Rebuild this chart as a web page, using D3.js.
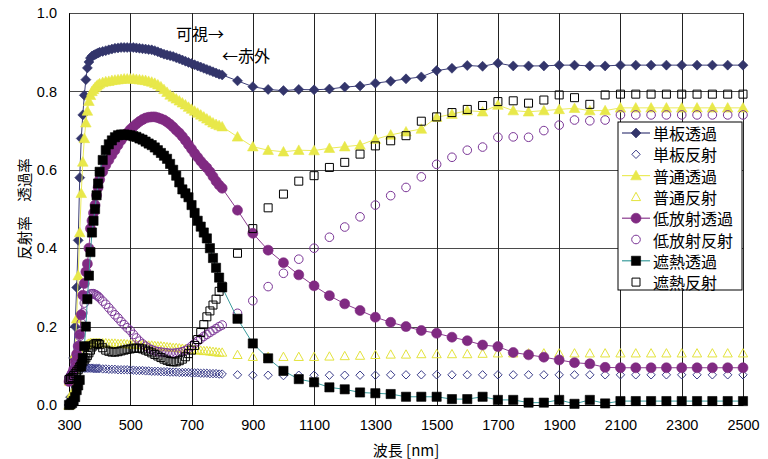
<!DOCTYPE html>
<html>
<head>
<meta charset="utf-8">
<script src="https://cdn.jsdelivr.net/npm/d3@7"></script>
<style>
  html, body { margin: 0; padding: 0; background: #fff; }
  svg { display: block; font-family: "Noto Sans CJK JP", "Noto Sans", sans-serif; }
</style>
</head>
<body>
<svg id="chart" width="768" height="459"></svg>
<script>
// wavelength grid [nm]: 5nm in UV, 10nm in visible, 50nm in IR
const wlUV = [300,305,310,315,320,325,330,335,340,345,350,355,360,365,370,375,380,385,390,395,400];
const wlVis = [410,420,430,440,450,460,470,480,490,500,510,520,530,540,550,560,570,580,590,600,
  610,620,630,640,650,660,670,680,690,700,710,720,730,740,750,760,770,780,790,800];
const wlIR = [850,900,950,1000,1050,1100,1150,1200,1250,1300,1350,1400,1450,1500,1550,1600,1650,1700,
  1750,1800,1850,1900,1950,2000,2050,2100,2150,2200,2250,2300,2350,2400,2450,2500];
const wavelengths = [...wlUV, ...wlVis, ...wlIR];

// 単板透過
const tanbanTouka = [
  0.00,0.02,0.06,0.12,0.20,0.30,0.42,0.58,0.68,0.74,0.79,0.83,0.86,0.875,0.885,0.89,0.892,0.894,0.896,0.898,0.900,
  0.902,0.904,0.906,0.908,0.910,0.911,0.912,0.912,0.912,0.912,0.912,0.911,0.910,0.909,0.908,0.907,0.906,0.904,0.901,0.898,
  0.895,0.893,0.891,0.889,0.886,0.883,0.880,0.877,0.874,0.871,0.868,0.865,0.862,0.859,0.856,0.853,0.850,0.847,0.844,0.842,
  0.827,0.812,0.805,0.802,0.805,0.804,0.806,0.811,0.814,0.821,0.826,0.832,0.837,0.853,0.859,0.866,0.864,0.872,
  0.865,0.865,0.865,0.867,0.867,0.865,0.865,0.867,0.867,0.867,0.867,0.867,0.867,0.867,0.867,0.867];
// 単板反射
const tanbanHansha = [
  0.070,0.070,0.075,0.080,0.085,0.090,0.092,0.094,0.094,0.094,0.094,0.094,0.094,0.094,0.094,0.094,0.093,0.093,0.093,0.093,0.093,
  0.092,0.092,0.091,0.091,0.091,0.090,0.090,0.090,0.090,0.089,0.089,0.088,0.088,0.088,0.087,0.087,0.086,0.086,0.086,0.085,
  0.085,0.085,0.084,0.084,0.084,0.083,0.083,0.083,0.083,0.082,0.082,0.082,0.081,0.081,0.081,0.080,0.080,0.080,0.079,0.079,
  0.077,0.076,0.076,0.075,0.076,0.076,0.076,0.076,0.076,0.076,0.077,0.077,0.077,0.077,0.077,0.077,0.077,0.077,
  0.077,0.077,0.077,0.077,0.077,0.077,0.077,0.077,0.077,0.077,0.077,0.077,0.077,0.077,0.077,0.077];
// 普通透過
const futsuTouka = [
  0.00,0.01,0.03,0.07,0.13,0.22,0.33,0.44,0.54,0.62,0.68,0.72,0.75,0.775,0.79,0.80,0.805,0.81,0.814,0.817,0.820,
  0.823,0.825,0.826,0.828,0.829,0.830,0.831,0.832,0.832,0.832,0.832,0.831,0.830,0.829,0.828,0.826,0.824,0.821,0.817,0.812,
  0.805,0.798,0.791,0.786,0.781,0.776,0.771,0.766,0.760,0.755,0.750,0.745,0.740,0.735,0.730,0.725,0.720,0.716,0.713,0.710,
  0.684,0.659,0.650,0.646,0.650,0.649,0.655,0.659,0.663,0.678,0.689,0.697,0.704,0.734,0.742,0.751,0.748,0.765,
  0.751,0.748,0.751,0.754,0.757,0.751,0.751,0.758,0.758,0.758,0.758,0.758,0.758,0.758,0.758,0.758];
// 普通反射
const futsuHansha = [
  0.060,0.065,0.070,0.080,0.090,0.100,0.110,0.120,0.130,0.140,0.148,0.152,0.155,0.157,0.158,0.158,0.158,0.158,0.158,0.158,0.158,
  0.158,0.158,0.157,0.157,0.157,0.156,0.156,0.156,0.155,0.155,0.155,0.154,0.154,0.153,0.153,0.152,0.152,0.151,0.150,0.150,
  0.149,0.148,0.147,0.146,0.146,0.145,0.144,0.143,0.142,0.142,0.141,0.140,0.139,0.138,0.138,0.137,0.136,0.135,0.134,0.134,
  0.128,0.123,0.123,0.123,0.123,0.123,0.124,0.125,0.126,0.128,0.129,0.129,0.130,0.130,0.130,0.130,0.131,0.132,
  0.132,0.132,0.132,0.132,0.132,0.132,0.132,0.132,0.132,0.132,0.132,0.132,0.132,0.132,0.132,0.132];
// 低放射透過
const teihoushaTouka = [
  0.06,0.07,0.08,0.09,0.11,0.13,0.15,0.18,0.23,0.28,0.31,0.34,0.36,0.40,0.45,0.47,0.49,0.51,0.535,0.555,0.575,
  0.595,0.612,0.625,0.638,0.650,0.663,0.675,0.685,0.694,0.703,0.710,0.717,0.723,0.728,0.732,0.734,0.735,0.735,0.733,0.730,
  0.727,0.722,0.716,0.709,0.701,0.694,0.685,0.675,0.664,0.653,0.642,0.632,0.622,0.613,0.605,0.595,0.583,0.571,0.561,0.553,
  0.497,0.438,0.395,0.363,0.332,0.304,0.279,0.258,0.241,0.224,0.211,0.200,0.190,0.183,0.173,0.164,0.153,0.149,
  0.134,0.128,0.122,0.115,0.108,0.105,0.096,0.095,0.095,0.095,0.095,0.095,0.095,0.095,0.095,0.095];
// 低放射反射
const teihoushaHansha = [
  0.070,0.075,0.080,0.090,0.100,0.120,0.150,0.175,0.210,0.235,0.260,0.270,0.276,0.280,0.283,0.284,0.284,0.282,0.280,0.277,0.273,
  0.265,0.257,0.248,0.239,0.230,0.222,0.213,0.205,0.197,0.190,0.180,0.171,0.163,0.156,0.150,0.145,0.141,0.138,0.136,0.135,
  0.134,0.133,0.132,0.132,0.133,0.134,0.136,0.139,0.144,0.150,0.157,0.163,0.169,0.175,0.180,0.185,0.190,0.195,0.200,0.204,
  0.234,0.266,0.302,0.336,0.372,0.400,0.428,0.454,0.480,0.510,0.534,0.555,0.582,0.614,0.632,0.650,0.658,0.683,
  0.684,0.683,0.700,0.714,0.727,0.725,0.727,0.740,0.740,0.740,0.740,0.740,0.740,0.740,0.740,0.740];
// 遮熱透過
const shanetsuTouka = [
  0.000,0.002,0.005,0.010,0.020,0.038,0.050,0.064,0.098,0.120,0.150,0.200,0.270,0.330,0.390,0.440,0.470,0.500,0.535,0.565,0.595,
  0.625,0.650,0.665,0.675,0.683,0.688,0.690,0.690,0.689,0.688,0.686,0.684,0.680,0.677,0.672,0.667,0.663,0.657,0.650,0.643,
  0.636,0.628,0.615,0.600,0.585,0.568,0.550,0.540,0.530,0.510,0.490,0.470,0.455,0.440,0.425,0.400,0.375,0.350,0.325,0.300,
  0.220,0.157,0.119,0.087,0.066,0.058,0.045,0.040,0.032,0.030,0.028,0.021,0.021,0.021,0.015,0.015,0.021,0.013,
  0.013,0.006,0.006,0.013,0.003,0.013,0.004,0.010,0.010,0.010,0.010,0.010,0.010,0.010,0.010,0.010];
// 遮熱反射
const shanetsuHansha = [
  0.065,0.068,0.070,0.075,0.080,0.085,0.090,0.097,0.105,0.110,0.115,0.120,0.126,0.133,0.140,0.148,0.153,0.156,0.157,0.157,0.154,
  0.146,0.140,0.137,0.135,0.135,0.136,0.138,0.140,0.142,0.143,0.145,0.145,0.145,0.143,0.140,0.137,0.133,0.129,0.125,0.121,
  0.117,0.114,0.111,0.110,0.110,0.113,0.117,0.123,0.131,0.140,0.152,0.167,0.185,0.205,0.225,0.240,0.255,0.270,0.290,0.303,
  0.387,0.450,0.503,0.538,0.571,0.585,0.606,0.619,0.640,0.661,0.674,0.687,0.724,0.735,0.746,0.754,0.764,0.774,
  0.776,0.770,0.778,0.791,0.784,0.767,0.791,0.793,0.793,0.793,0.793,0.793,0.793,0.793,0.793,0.793];

const xTicks = [300,500,700,900,1100,1300,1500,1700,1900,2100,2300,2500];
const yTicks = [0, 0.2, 0.4, 0.6, 0.8, 1.0];

// series: name, values, marker, filled, marker colour, line colour (null = markers only)
const series = [
  { name: '単板透過',   values: tanbanTouka,     marker: 'diamond',  filled: true,  color: '#33356b', line: '#3d3f78' },
  { name: '単板反射',   values: tanbanHansha,    marker: 'diamond',  filled: false, color: '#3b3d8a', line: null },
  { name: '普通透過',   values: futsuTouka,      marker: 'triangle', filled: true,  color: '#e8e84a', line: '#ebeb5c' },
  { name: '普通反射',   values: futsuHansha,     marker: 'triangle', filled: false, color: '#e3e33c', line: null },
  { name: '低放射透過', values: teihoushaTouka,  marker: 'circle',   filled: true,  color: '#802a82', line: '#8a3a8e' },
  { name: '低放射反射', values: teihoushaHansha, marker: 'circle',   filled: false, color: '#7a3596', line: null },
  { name: '遮熱透過',   values: shanetsuTouka,   marker: 'square',   filled: true,  color: '#000000', line: '#3a9c9c' },
  { name: '遮熱反射',   values: shanetsuHansha,  marker: 'square',   filled: false, color: '#000000', line: null }
];

const margin = { left: 69, right: 25, top: 13, bottom: 54 };
const size = { width: 768, height: 459 };

const svg = d3.select('#chart');

const xScale = d3.scaleLinear()
  .domain([300, 2500])
  .range([margin.left, size.width - margin.right]);

const yScale = d3.scaleLinear()
  .domain([0, 1])
  .range([size.height - margin.bottom, margin.top]);

// marker shape paths centred on 0,0
function markerPath(type, filled) {
  const p = d3.path();
  if (type === 'diamond') {
    const r = filled ? 5 : 4.2;
    p.moveTo(0, -r); p.lineTo(r, 0); p.lineTo(0, r); p.lineTo(-r, 0); p.closePath();
  } else if (type === 'triangle') {
    const r = filled ? 5.3 : 4.6;
    p.moveTo(0, -r); p.lineTo(r, r * 0.8); p.lineTo(-r, r * 0.8); p.closePath();
  } else if (type === 'square') {
    const r = filled ? 4.6 : 4;
    p.rect(-r, -r, 2 * r, 2 * r);
  } else {
    const r = filled ? 5 : 4.3;
    p.arc(0, 0, r, 0, Math.PI * 2);
  }
  return p.toString();
}

// grid
const grid = svg.append('g');
grid.selectAll('.hgrid')
  .data(yTicks)
  .join('line')
  .attr('x1', margin.left)
  .attr('x2', size.width - margin.right)
  .attr('y1', d => Math.round(yScale(d)) + 0.5)
  .attr('y2', d => Math.round(yScale(d)) + 0.5)
  .attr('stroke', '#4a4a4a')
  .attr('stroke-width', 1);

grid.selectAll('.vgrid')
  .data(xTicks)
  .join('line')
  .attr('x1', d => Math.round(xScale(d)) + 0.5)
  .attr('x2', d => Math.round(xScale(d)) + 0.5)
  .attr('y1', yScale(1))
  .attr('y2', yScale(0))
  .attr('stroke', '#222')
  .attr('stroke-width', 1);

// axes
svg.append('g')
  .attr('transform', `translate(0, ${yScale(0)})`)
  .call(d3.axisBottom(xScale).tickValues(xTicks).tickSize(0).tickPadding(15).tickFormat(d3.format('d')))
  .call(g => g.select('.domain').attr('stroke', '#000'))
  .selectAll('text')
  .attr('fill', '#000')
  .style('font-size', '14.5px')
  .style('font-family', '"Liberation Sans", Arial, sans-serif');

svg.append('g')
  .attr('transform', `translate(${margin.left}, 0)`)
  .call(d3.axisLeft(yScale).tickValues(yTicks).tickSize(0).tickPadding(12).tickFormat(d3.format('.1f')))
  .call(g => g.select('.domain').attr('stroke', '#000'))
  .selectAll('text')
  .attr('fill', '#000')
  .style('font-size', '14.5px')
  .style('font-family', '"Liberation Sans", Arial, sans-serif');

// series
const plot = svg.append('g');
const lineGen = d3.line()
  .x((d, i) => xScale(wavelengths[i]))
  .y(d => yScale(d));

series.forEach(s => {
  if (s.line) {
    plot.append('path')
      .datum(s.values)
      .attr('d', lineGen)
      .attr('fill', 'none')
      .attr('stroke', s.line)
      .attr('stroke-width', 1);
  }
  plot.append('g')
    .selectAll('path')
    .data(s.values)
    .join('path')
    .attr('transform', (d, i) => `translate(${xScale(wavelengths[i])}, ${yScale(d)})`)
    .attr('d', markerPath(s.marker, s.filled))
    .attr('fill', s.filled ? s.color : 'none')
    .attr('stroke', s.color)
    .attr('stroke-width', s.filled ? 0.6 : 1);
});

// axis titles
svg.append('text')
  .attr('transform', `translate(23, ${yScale(0.5)}) rotate(-90)`)
  .attr('text-anchor', 'middle')
  .attr('dominant-baseline', 'central')
  .style('font-size', '14.5px')
  .text('反射率　透過率');

svg.append('text')
  .attr('x', 406)
  .attr('y', 449)
  .attr('text-anchor', 'middle')
  .attr('dominant-baseline', 'central')
  .style('font-size', '15px')
  .text('波長 [nm]');

// annotations
svg.append('text')
  .attr('x', 176)
  .attr('y', 33)
  .attr('dominant-baseline', 'central')
  .style('font-size', '16px')
  .text('可視→');

svg.append('text')
  .attr('x', 222)
  .attr('y', 55)
  .attr('dominant-baseline', 'central')
  .style('font-size', '16px')
  .text('←赤外');

// legend
const legend = svg.append('g').attr('transform', 'translate(618, 122)');
legend.append('rect')
  .attr('width', 124)
  .attr('height', 168)
  .attr('fill', '#fff')
  .attr('stroke', '#000')
  .attr('stroke-width', 1);

const rowH = 21.3;
series.forEach((s, i) => {
  const y = 11 + i * rowH;
  const row = legend.append('g').attr('transform', `translate(0, ${y})`);
  if (s.line) {
    row.append('line')
      .attr('x1', 4).attr('x2', 32)
      .attr('y1', 0).attr('y2', 0)
      .attr('stroke', s.line)
      .attr('stroke-width', 1.2);
  }
  row.append('path')
    .attr('transform', 'translate(18, 0)')
    .attr('d', markerPath(s.marker, s.filled))
    .attr('fill', s.filled ? s.color : 'none')
    .attr('stroke', s.color)
    .attr('stroke-width', s.filled ? 0.6 : 1);
  row.append('text')
    .attr('x', 35)
    .attr('y', 0)
    .attr('dominant-baseline', 'central')
    .style('font-size', '16px')
    .text(s.name);
});
</script>
</body>
</html>
